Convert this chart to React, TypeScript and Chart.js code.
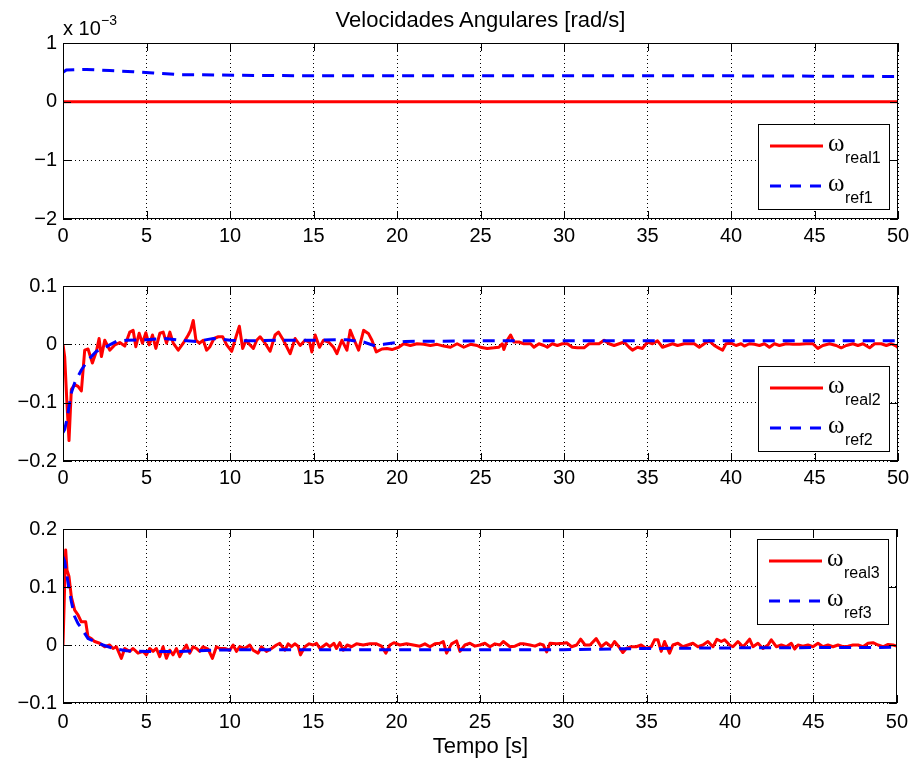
import React, { useEffect, useRef } from 'react';
import { Chart, registerables } from 'chart.js';

Chart.register(...registerables);

const FONT = '"Liberation Sans", Arial, Helvetica, sans-serif';
const OMEGA_FONT = '"Liberation Serif", "DejaVu Serif", serif';
const RED = '#ff0000';
const BLUE = '#0000ff';

const TITLE = 'Velocidades Angulares [rad/s]';
const XLABEL = 'Tempo [s]';
const EXP_BASE = 'x 10';
const EXP_POWER = '\u22123';
const LEGEND_SYMBOL = 'ω';

// time axis
const X_MIN = 0;
const X_MAX = 50;
const X_STEP = 5;

// ---------- panel 1 (values in units of 10^-3 rad/s) ----------
const real1: [number, number][] = [[0, 0], [50, 0]];
const ref1: [number, number][] = [
  [0, 0.5], [0.2, 0.54], [1.4, 0.55], [2.8, 0.53], [4.2, 0.51], [5.4, 0.49], [7, 0.46],
  [8.2, 0.46], [10.2, 0.45], [15, 0.44], [20, 0.44], [30, 0.44], [40, 0.44], [50, 0.43],
];
const legend1 = ['real1', 'ref1'];

// ---------- panel 2 ----------
const real2: [number, number][] = [
  [0, 0], [0.1, -0.021], [0.24, -0.103], [0.36, -0.165], [0.5, -0.077], [0.7, -0.069], [0.9, -0.072],
  [1.1, -0.08], [1.3, -0.01], [1.5, -0.008], [1.76, -0.032], [2.0, -0.012], [2.16, 0.01], [2.3, -0.021],
  [2.5, 0.007], [2.8, -0.01], [3.1, -0.001], [3.4, 0.003], [3.7, -0.003], [4.0, 0.021], [4.2, 0.024],
  [4.36, -0.004], [4.56, 0.019], [4.76, 0.002], [4.96, 0.02], [5.16, -0.001], [5.36, 0.016], [5.56, -0.007],
  [5.8, 0.019], [6.0, 0.021], [6.2, 0.002], [6.4, 0.021], [6.6, 0.002], [6.9, -0.01], [7.2, 0.002],
  [7.5, 0.016], [7.64, 0.024], [7.8, 0.041], [7.96, 0.007], [8.16, 0.002], [8.4, 0.007], [8.6, -0.01],
  [8.8, -0.004], [9.04, 0.01], [9.3, 0.013], [9.56, 0.013], [9.8, -0.001], [10.1, -0.012], [10.36, 0.013],
  [10.56, 0.031], [10.76, -0.007], [10.96, 0.007], [11.2, -0.001], [11.4, -0.007], [11.6, 0.007],
  [11.8, 0.013], [12.1, 0.002], [12.4, -0.012], [12.7, 0.016], [12.9, 0.021], [13.2, 0.007], [13.6, -0.016],
  [13.9, 0.01], [14.2, -0.002], [14.5, 0.007], [14.76, 0.004], [14.9, -0.013], [15.1, 0.016], [15.36, -0.005],
  [15.6, 0.007], [15.9, 0.004], [16.2, -0.005], [16.4, -0.016], [16.7, 0.007], [17.0, -0.01], [17.2, 0.024],
  [17.4, 0.01], [17.7, -0.01], [18.0, 0.024], [18.3, 0.018], [18.5, 0.007], [18.76, -0.013], [19.1, -0.008],
  [19.4, -0.007], [19.7, -0.009], [20.1, -0.005], [20.4, 0.001], [20.8, -0.002], [21.2, 0.001], [21.6, 0],
  [22.0, -0.002], [22.4, 0], [22.8, -0.003], [23.2, -0.005], [23.6, 0.001], [24.0, -0.005], [24.4, 0],
  [24.8, -0.002], [25.0, -0.005], [25.4, -0.007], [25.8, -0.006], [26.1, -0.005], [26.3, 0.001],
  [26.4, -0.009], [26.6, 0.007], [26.8, 0.016], [27.0, 0.004], [27.3, 0.004], [27.6, 0.001], [28.0, 0.001],
  [28.2, -0.005], [28.5, 0.001], [28.8, -0.002], [29.0, -0.005], [29.3, 0.001], [29.6, -0.002], [29.9, 0.001],
  [30.2, 0.001], [30.5, -0.005], [30.8, -0.006], [31.2, -0.006], [31.5, 0.001], [31.8, 0.001], [32.1, 0.001],
  [32.4, 0.007], [32.7, 0.001], [33.0, -0.002], [33.3, 0.001], [33.6, 0.004], [33.9, -0.005], [34.1, -0.01],
  [34.4, -0.005], [34.7, -0.007], [35.0, 0.004], [35.3, 0.001], [35.6, 0.006], [35.9, -0.005], [36.2, -0.002],
  [36.5, 0.001], [36.8, -0.002], [37.2, 0.001], [37.5, 0.001], [37.8, 0.001], [38.1, -0.005], [38.4, 0.001],
  [38.7, 0.006], [39.0, -0.002], [39.3, -0.007], [39.5, -0.01], [39.7, 0.001], [40.0, 0.002], [40.3, -0.002],
  [40.6, 0.001], [40.8, -0.003], [41.1, 0.001], [41.4, 0], [41.7, -0.002], [42.0, 0.001], [42.3, -0.005],
  [42.6, 0.001], [42.9, -0.002], [43.3, 0.001], [43.7, 0], [44.1, 0], [44.5, 0.001], [44.9, 0.001],
  [45.2, -0.007], [45.5, -0.002], [45.9, 0.001], [46.3, -0.002], [46.6, -0.006], [46.9, -0.002], [47.3, 0.001],
  [47.6, -0.002], [47.9, 0.001], [48.3, -0.006], [48.6, 0.001], [49.0, 0.001], [49.3, -0.002], [49.6, 0.001],
  [49.9, -0.003], [50.0, -0.006],
];
const ref2: [number, number][] = [
  [0, -0.151], [0.1, -0.146], [0.24, -0.128], [0.5, -0.083], [0.7, -0.066], [1.1, -0.044], [1.5, -0.027],
  [2.0, -0.012], [2.6, -0.004], [3.2, 0.005], [3.8, 0.007], [5, 0.008], [6, 0.01], [7, 0.007], [8, 0.005],
  [9, 0.01], [10, 0.007], [11, 0.006], [13, 0.007], [15, 0.007], [17, 0.008], [18, 0.004], [18.6, -0.002],
  [19.2, 0], [20.5, 0.005], [25, 0.006], [30, 0.006], [40, 0.006], [50, 0.006],
];
const legend2 = ['real2', 'ref2'];

// ---------- panel 3 ----------
const real3: [number, number][] = [
  [0, 0], [0.16, 0.164], [0.24, 0.129], [0.36, 0.118], [0.5, 0.083], [0.7, 0.06], [0.9, 0.052], [1.1, 0.04],
  [1.36, 0.04], [1.5, 0.014], [1.7, 0.011], [1.9, 0.006], [2.2, 0.003], [2.5, -0.003], [2.8, 0], [3.0, -0.006],
  [3.2, -0.003], [3.5, -0.023], [3.7, -0.006], [4.0, -0.011], [4.2, -0.006], [4.5, -0.014], [4.8, -0.011],
  [5.0, -0.017], [5.2, -0.006], [5.4, -0.011], [5.6, -0.006], [5.8, -0.02], [6.0, -0.003], [6.2, -0.023],
  [6.4, -0.009], [6.6, -0.017], [6.8, -0.006], [7.0, -0.02], [7.2, -0.009], [7.4, 0], [7.6, -0.014],
  [7.8, -0.003], [8.0, -0.006], [8.2, -0.011], [8.4, -0.003], [8.7, -0.007], [8.96, -0.023], [9.2, -0.003],
  [9.4, -0.006], [9.7, -0.006], [10.0, -0.009], [10.2, 0], [10.4, -0.011], [10.6, -0.003], [10.9, -0.006],
  [11.2, 0], [11.4, -0.009], [11.7, -0.014], [11.9, -0.003], [12.2, -0.011], [12.5, -0.006], [12.8, 0],
  [13.0, 0.003], [13.3, -0.009], [13.5, 0.002], [13.7, -0.003], [13.9, 0.002], [14.1, -0.002], [14.24, -0.017],
  [14.5, -0.003], [14.76, 0.002], [15.0, 0], [15.2, 0.003], [15.4, -0.006], [15.6, -0.002], [15.8, 0.002],
  [16.0, -0.003], [16.24, 0.003], [16.4, -0.006], [16.6, 0.004], [16.8, -0.009], [17.04, 0], [17.3, -0.003],
  [17.6, 0.002], [18.0, 0], [18.4, 0.002], [18.8, 0.002], [19.1, -0.002], [19.36, -0.014], [19.6, 0],
  [19.84, 0.004], [20.2, 0], [20.6, 0.002], [21.0, 0], [21.4, -0.002], [21.7, 0.002], [22.0, -0.003],
  [22.3, 0.002], [22.6, 0.003], [22.8, 0.006], [23.0, -0.014], [23.3, 0.002], [23.6, 0.007], [23.8, -0.011],
  [24.1, 0], [24.4, 0.003], [24.7, -0.002], [25.0, 0], [25.3, 0.003], [25.6, -0.003], [25.9, 0.002], [26.2, 0],
  [26.4, 0.006], [26.8, -0.003], [27.1, -0.002], [27.4, 0.002], [27.6, 0.002], [28.0, 0], [28.3, -0.002],
  [28.6, 0.002], [28.8, 0], [29.0, -0.012], [29.2, 0.003], [29.6, 0.002], [30.0, 0.003], [30.2, 0.004],
  [30.5, -0.003], [30.8, 0], [31.04, 0.01], [31.3, 0], [31.6, 0], [31.97, 0.011], [32.27, -0.003],
  [32.57, 0.004], [32.87, -0.003], [33.07, 0.006], [33.33, -0.003], [33.57, -0.013], [33.77, -0.006],
  [34.07, -0.003], [34.37, -0.003], [34.67, 0], [34.97, -0.006], [35.27, -0.003], [35.47, 0.009],
  [35.67, 0.009], [35.87, -0.011], [36.07, 0.006], [36.37, -0.014], [36.57, 0], [36.87, 0.003],
  [37.17, -0.003], [37.47, 0], [37.77, 0.003], [38.07, -0.003], [38.37, 0], [38.67, 0.006], [38.97, -0.003],
  [39.21, 0.01], [39.47, 0.006], [39.67, 0.009], [39.97, 0], [40.17, -0.003], [40.47, 0.006], [40.77, -0.003],
  [40.97, 0.003], [41.17, 0.01], [41.37, -0.003], [41.67, 0.003], [41.97, -0.006], [42.27, 0], [42.47, 0.009],
  [42.77, -0.003], [43.07, 0], [43.37, -0.003], [43.67, 0.003], [43.87, -0.007], [44.07, 0], [44.37, -0.002],
  [44.67, 0], [44.97, -0.003], [45.27, 0.003], [45.57, -0.003], [45.87, 0], [46.17, -0.003], [46.47, 0],
  [46.77, -0.003], [47.07, -0.002], [47.37, 0], [47.67, 0], [47.97, -0.003], [48.27, 0.003], [48.57, 0.004],
  [48.87, 0], [49.17, -0.003], [49.47, 0.001], [49.77, 0], [50, -0.002],
];
const ref3: [number, number][] = [
  [0, 0.152], [0.1, 0.144], [0.24, 0.118], [0.5, 0.075], [0.7, 0.049], [0.9, 0.037], [1.1, 0.029],
  [1.5, 0.011], [1.9, 0.006], [2.4, 0], [3.0, -0.006], [3.8, -0.01], [5, -0.011], [7, -0.011], [9, -0.009],
  [11, -0.008], [13, -0.008], [20, -0.008], [25, -0.008], [30, -0.008], [35, -0.006], [40, -0.005], [50, -0.004],
];
const legend3 = ['real3', 'ref3'];

// y-axis ranges per panel
const yRange1 = { min: -2, max: 1, step: 1 };
const yRange2 = { min: -0.2, max: 0.1, step: 0.1 };
const yRange3 = { min: -0.1, max: 0.2, step: 0.1 };

type Panel = {
  top: number;
  height: number;
  padTop: number;
  xAxisH: number;
  tickPad: number;
  yr: { min: number; max: number; step: number };
  real: [number, number][];
  ref: [number, number][];
  subs: string[];
  legendPlace: 'top' | 'bottom';
};

const PANELS: Panel[] = [
  { top: 0, height: 255, padTop: 43, xAxisH: 36, tickPad: 5, yr: yRange1, real: real1, ref: ref1, subs: legend1, legendPlace: 'bottom' },
  { top: 255, height: 235, padTop: 31, xAxisH: 29, tickPad: 5, yr: yRange2, real: real2, ref: ref2, subs: legend2, legendPlace: 'bottom' },
  { top: 490, height: 272, padTop: 39, xAxisH: 59, tickPad: 7, yr: yRange3, real: real3, ref: ref3, subs: legend3, legendPlace: 'top' },
];

const fmtY = (v: number) => {
  const r = Math.round(v * 10) / 10;
  if (r === 0) return '0';
  return r < 0 ? '\u2212' + String(Math.abs(r)) : String(r);
};

const framePlugin = {
  id: 'mlFrame',
  afterDraw(chart: any) {
    const { ctx, chartArea: a, scales } = chart;
    ctx.save();
    ctx.setLineDash([]);
    ctx.strokeStyle = '#000';
    ctx.lineWidth = 1;
    ctx.beginPath();
    const TL = 8;
    for (const t of scales.x.ticks) {
      const px = Math.round(scales.x.getPixelForValue(t.value)) + 0.5;
      ctx.moveTo(px, a.bottom);
      ctx.lineTo(px, a.bottom - TL);
      ctx.moveTo(px, a.top);
      ctx.lineTo(px, a.top + TL);
    }
    for (const t of scales.y.ticks) {
      const py = Math.round(scales.y.getPixelForValue(t.value)) + 0.5;
      ctx.moveTo(a.left, py);
      ctx.lineTo(a.left + TL, py);
      ctx.moveTo(a.right, py);
      ctx.lineTo(a.right - TL, py);
    }
    ctx.stroke();
    ctx.strokeRect(Math.round(a.left) + 0.5, Math.round(a.top) + 0.5, Math.round(a.width) - 1, Math.round(a.height) - 1);
    ctx.restore();
  },
};

function makeLegendPlugin(subs: string[], place: 'top' | 'bottom') {
  return {
    id: 'mlLegend',
    afterDraw(chart: any) {
      const { ctx, chartArea: a } = chart;
      const w = 131;
      const h = 85;
      const x = Math.round(a.right - 9 - w);
      const y = Math.round(place === 'top' ? a.top + 10 : a.bottom - 10 - h);
      ctx.save();
      ctx.setLineDash([]);
      ctx.fillStyle = '#fff';
      ctx.fillRect(x, y, w, h);
      ctx.strokeStyle = '#000';
      ctx.lineWidth = 1;
      ctx.strokeRect(x + 0.5, y + 0.5, w, h);
      const rows = [
        { color: RED, dash: [] as number[], dy: 22 },
        { color: BLUE, dash: [11, 9], dy: 62 },
      ];
      rows.forEach((r, i) => {
        ctx.strokeStyle = r.color;
        ctx.lineWidth = 3;
        ctx.setLineDash(r.dash);
        ctx.beginPath();
        ctx.moveTo(x + 12, y + r.dy);
        ctx.lineTo(x + 65, y + r.dy);
        ctx.stroke();
        ctx.setLineDash([]);
        ctx.fillStyle = '#000';
        ctx.textAlign = 'left';
        ctx.textBaseline = 'alphabetic';
        ctx.font = `25px ${OMEGA_FONT}`;
        ctx.fillText(LEGEND_SYMBOL, x + 70, y + r.dy + 5);
        ctx.font = `16px ${FONT}`;
        ctx.fillText(subs[i], x + 87, y + r.dy + 17);
      });
      ctx.restore();
    },
  };
}

function buildChart(canvas: HTMLCanvasElement, p: Panel) {
  const toXY = (arr: [number, number][]) => arr.map(([x, y]) => ({ x, y }));
  return new Chart(canvas, {
    type: 'line',
    data: {
      datasets: [
        {
          label: 'real',
          data: toXY(p.real),
          borderColor: RED,
          backgroundColor: RED,
          borderWidth: 3,
          pointRadius: 0,
          tension: 0,
          borderJoinStyle: 'round',
          order: 2,
        },
        {
          label: 'ref',
          data: toXY(p.ref),
          borderColor: BLUE,
          backgroundColor: BLUE,
          borderWidth: 3,
          borderDash: [12, 8],
          pointRadius: 0,
          tension: 0,
          order: 1,
        },
      ],
    },
    options: {
      animation: false,
      responsive: false,
      maintainAspectRatio: false,
      devicePixelRatio: 1,
      layout: { padding: { top: p.padTop, right: 17, left: 0, bottom: 0 } },
      plugins: {
        legend: { display: false },
        tooltip: { enabled: false },
        title: { display: false },
      },
      scales: {
        x: {
          type: 'linear',
          min: X_MIN,
          max: X_MAX,
          ticks: {
            stepSize: X_STEP,
            autoSkip: false,
            maxRotation: 0,
            color: '#000',
            padding: p.tickPad,
            font: { family: FONT, size: 20 },
            callback: (v: any) => String(v),
          },
          grid: { color: '#000', lineWidth: 1, drawTicks: false },
          border: { display: false, dash: [1, 3] },
          afterFit: (s: any) => {
            s.height = p.xAxisH;
          },
        },
        y: {
          type: 'linear',
          min: p.yr.min,
          max: p.yr.max,
          ticks: {
            stepSize: p.yr.step,
            color: '#000',
            padding: 6,
            font: { family: FONT, size: 20 },
            callback: (v: any) => fmtY(Number(v)),
          },
          grid: { color: '#000', lineWidth: 1, drawTicks: false },
          border: { display: false, dash: [1, 3] },
          afterFit: (s: any) => {
            s.width = 63;
          },
        },
      },
    } as any,
    plugins: [framePlugin, makeLegendPlugin(p.subs, p.legendPlace)],
  });
}

export default function App() {
  const c1 = useRef<HTMLCanvasElement>(null);
  const c2 = useRef<HTMLCanvasElement>(null);
  const c3 = useRef<HTMLCanvasElement>(null);

  useEffect(() => {
    const refs = [c1, c2, c3];
    const charts = PANELS.map((p, i) => buildChart(refs[i].current as HTMLCanvasElement, p));
    return () => charts.forEach((c) => c.destroy());
  }, []);

  const canvasRefs = [c1, c2, c3];
  return (
    <div style={{ position: 'absolute', left: 0, top: 0, width: 915, height: 762, background: '#fff', fontFamily: FONT, color: '#000' }}>
      {PANELS.map((p, i) => (
        <canvas
          key={i}
          ref={canvasRefs[i]}
          width={915}
          height={p.height}
          style={{ position: 'absolute', left: 0, top: p.top, width: 915, height: p.height, display: 'block' }}
        />
      ))}
      <div style={{ position: 'absolute', left: 63, width: 835, top: 8, textAlign: 'center', fontSize: 22, lineHeight: '24px', whiteSpace: 'nowrap' }}>
        {TITLE}
      </div>
      <div style={{ position: 'absolute', left: 63, top: 16, fontSize: 20, lineHeight: '24px', whiteSpace: 'nowrap' }}>
        {EXP_BASE}
      </div>
      <div style={{ position: 'absolute', left: 101, top: 12, fontSize: 14, lineHeight: '16px', whiteSpace: 'nowrap' }}>
        {EXP_POWER}
      </div>
      <div style={{ position: 'absolute', left: 63, width: 835, top: 734, textAlign: 'center', fontSize: 22, lineHeight: '24px', whiteSpace: 'nowrap' }}>
        {XLABEL}
      </div>
    </div>
  );
}
